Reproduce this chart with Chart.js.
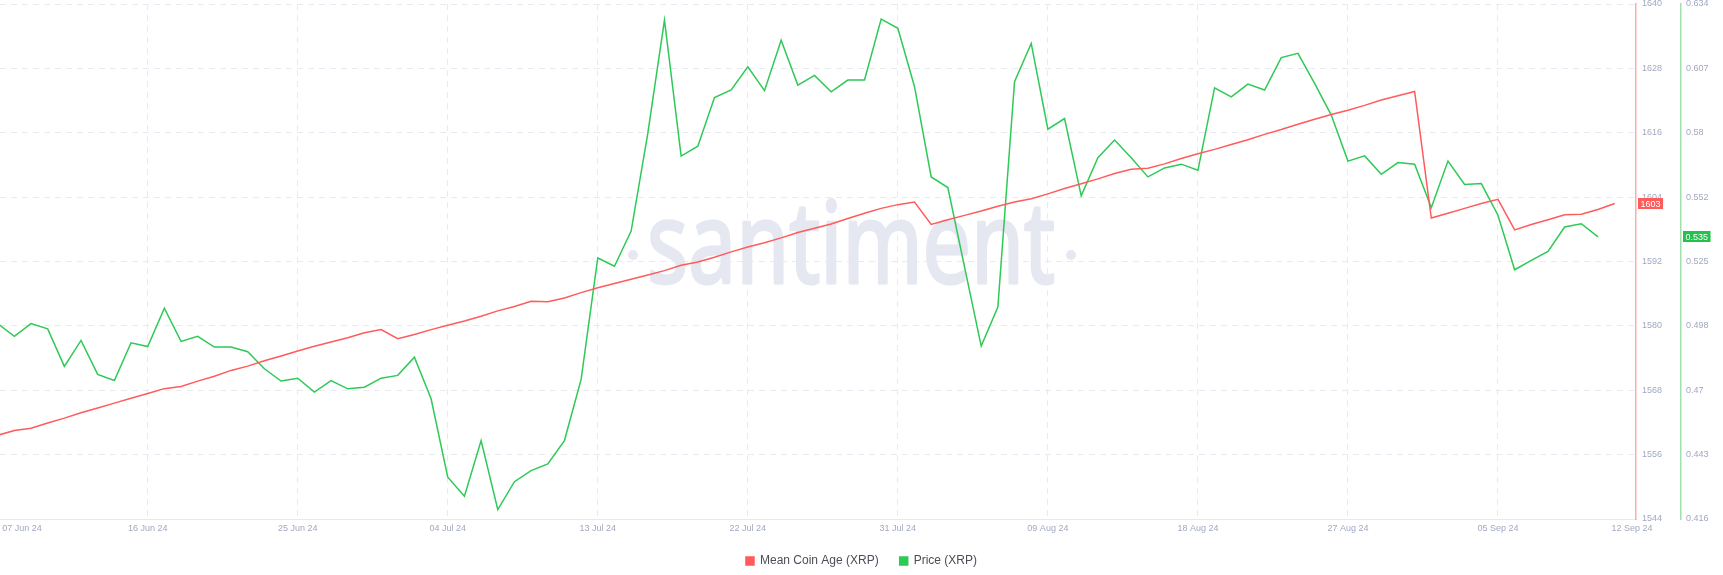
<!DOCTYPE html>
<html>
<head>
<meta charset="utf-8">
<script src="https://cdn.jsdelivr.net/npm/chart.js@4.4.1/dist/chart.umd.min.js"></script>
<style>
  html, body { margin: 0; padding: 0; background: #fff; }
  #wrap { width: 1723px; height: 575px; }
</style>
</head>
<body>
<div id="wrap"><canvas id="chart" width="1723" height="575"></canvas></div>
<script>
// daily values, 07 Jun 24 .. 12 Sep 24
const meanCoinAge = [
  1559.6, 1560.5, 1560.9, 1561.9, 1562.8, 1563.8, 1564.7, 1565.6, 1566.5, 1567.4,
  1568.3, 1568.7, 1569.7, 1570.6, 1571.7, 1572.5, 1573.5, 1574.4, 1575.3, 1576.2,
  1577.0, 1577.8, 1578.7, 1579.3, 1577.6, 1578.4, 1579.3, 1580.1, 1580.9, 1581.8,
  1582.8, 1583.6, 1584.6, 1584.5, 1585.2, 1586.2, 1587.1, 1587.9, 1588.7, 1589.5,
  1590.3, 1591.3, 1591.9, 1592.8, 1593.8, 1594.7, 1595.5, 1596.4, 1597.4, 1598.2,
  1599.0, 1600.0, 1601.0, 1601.9, 1602.6, 1603.1, 1598.9, 1599.8, 1600.6, 1601.4,
  1602.3, 1603.1, 1603.7, 1604.6, 1605.6, 1606.5, 1607.4, 1608.4, 1609.2, 1609.4,
  1610.2, 1611.2, 1612.1, 1612.9, 1613.8, 1614.7, 1615.7, 1616.6, 1617.6, 1618.5,
  1619.4, 1620.2, 1621.1, 1622.1, 1622.9, 1623.7, 1600.1, 1601.0, 1601.9, 1602.8,
  1603.6, 1597.9, 1598.9, 1599.8, 1600.7, 1600.8, 1601.7, 1602.8
];
const price = [
  0.4987, 0.4933, 0.4987, 0.4965, 0.4806, 0.4916, 0.4772, 0.4746, 0.4906, 0.4890,
  0.5052, 0.4912, 0.4933, 0.4888, 0.4888, 0.4868, 0.4796, 0.4744, 0.4756, 0.4697,
  0.4746, 0.4711, 0.4718, 0.4756, 0.4768, 0.4845, 0.4669, 0.4337, 0.4256, 0.4492,
  0.4200, 0.4318, 0.4365, 0.4393, 0.4492, 0.4751, 0.5265, 0.5230, 0.5379, 0.5792,
  0.6272, 0.5696, 0.5738, 0.5944, 0.5976, 0.6074, 0.5973, 0.6187, 0.5997, 0.6038,
  0.5968, 0.6018, 0.6018, 0.6276, 0.6237, 0.5990, 0.5608, 0.5563, 0.5227, 0.4892,
  0.5057, 0.6011, 0.6173, 0.5810, 0.5855, 0.5528, 0.5689, 0.5764, 0.5689, 0.5608,
  0.5646, 0.5662, 0.5636, 0.5985, 0.5947, 0.6001, 0.5976, 0.6113, 0.6131, 0.6004,
  0.5870, 0.5675, 0.5697, 0.5619, 0.5669, 0.5662, 0.5478, 0.5675, 0.5576, 0.5580,
  0.5446, 0.5215, 0.5255, 0.5293, 0.5396, 0.5410, 0.5354
];
const dateTicks = ["07 Jun 24", "16 Jun 24", "25 Jun 24", "04 Jul 24", "13 Jul 24", "22 Jul 24",
  "31 Jul 24", "09 Aug 24", "18 Aug 24", "27 Aug 24", "05 Sep 24", "12 Sep 24"];
const coinAgeTicks = [1544, 1556, 1568, 1580, 1592, 1604, 1616, 1628, 1640];
const priceTicks = ["0.416", "0.443", "0.47", "0.498", "0.525", "0.552", "0.58", "0.607", "0.634"];

const RED = "#ff5b5b";
const GREEN = "#2ec957";
const TICK_COLOR = "#a2a8c0";
const GRID_COLOR = "#e8eaf3";
const tickFont = { family: "'Liberation Sans', Arial, sans-serif", size: 9 };

// where the date labels sit (day index); first/last are nudged like the original
const dateTickAt = [1.46, 9, 18, 27, 36, 45, 54, 63, 72, 81, 90, 98.04];

const watermark = {
  id: "watermark",
  beforeDatasetsDraw(chart) {
    const ctx = chart.ctx;
    ctx.save();
    ctx.fillStyle = "#e5e7f1";
    ctx.strokeStyle = "#e5e7f1";
    ctx.lineWidth = 3;
    ctx.lineJoin = "round";
    ctx.font = "400 114px 'Noto Sans'";
    ctx.textAlign = "center";
    ctx.textBaseline = "alphabetic";
    const w = ctx.measureText("santiment").width;
    ctx.translate(851, 283);
    ctx.scale(408 / w, 1);
    ctx.fillText("santiment", 0, 0);
    ctx.strokeText("santiment", 0, 0);
    ctx.restore();
    ctx.save();
    ctx.fillStyle = "#e5e7f1";
    [633, 1071].forEach((x) => {
      ctx.beginPath();
      ctx.arc(x, 255, 5, 0, Math.PI * 2);
      ctx.fill();
    });
    ctx.restore();
  },
};

// last value tags on the right axes
const lastValueTags = {
  id: "lastValueTags",
  afterDraw(chart) {
    const ctx = chart.ctx;
    const tag = (scale, value, text, bg) => {
      const y = scale.getPixelForValue(value);
      ctx.save();
      ctx.font = "9px 'Liberation Sans', Arial, sans-serif";
      const w = ctx.measureText(text).width + 5;
      ctx.fillStyle = bg;
      ctx.fillRect(scale.left + 2, Math.round(y - 5.5), w, 11);
      ctx.fillStyle = "#fff";
      ctx.textBaseline = "middle";
      ctx.fillText(text, scale.left + 4.5, y + 0.5);
      ctx.restore();
    };
    const lastAge = meanCoinAge[meanCoinAge.length - 1];
    const lastPrice = price[price.length - 1];
    tag(chart.scales.y, lastAge, Math.round(lastAge).toString(), RED);
    tag(chart.scales.y1, lastPrice, lastPrice.toFixed(3), "#22c24c");
  },
};

const noOverflow = (scale) => {
  scale.paddingTop = 0;
  scale.paddingBottom = 0;
  scale.paddingLeft = 0;
  scale.paddingRight = 0;
};

const ctx = document.getElementById("chart").getContext("2d");
new Chart(ctx, {
  type: "line",
  data: {
    datasets: [
      {
        label: "Mean Coin Age (XRP)",
        data: meanCoinAge.map((v, i) => ({ x: i, y: v })),
        borderColor: RED,
        backgroundColor: RED,
        borderWidth: 1.5,
        pointRadius: 0,
        tension: 0,
        yAxisID: "y",
      },
      {
        label: "Price (XRP)",
        data: price.map((v, i) => ({ x: i, y: v })),
        borderColor: GREEN,
        backgroundColor: GREEN,
        borderWidth: 1.5,
        pointRadius: 0,
        tension: 0,
        yAxisID: "y1",
      },
    ],
  },
  options: {
    responsive: false,
    animation: false,
    layout: { padding: { top: 4, left: 0, right: 0, bottom: -2 } },
    plugins: {
      tooltip: { enabled: false },
      legend: {
        position: "bottom",
        labels: {
          boxWidth: 8,
          boxHeight: 8,
          padding: 21,
          color: "#4d4d58",
          font: { family: "'Liberation Sans', Arial, sans-serif", size: 12 },
        },
      },
    },
    scales: {
      x: {
        type: "linear",
        min: 0.14,
        max: 98.28,
        afterBuildTicks: (scale) => {
          scale.ticks = dateTickAt.map((v) => ({ value: v }));
        },
        afterFit: (scale) => { noOverflow(scale); scale.height = 15; },
        ticks: {
          autoSkip: false,
          maxRotation: 0,
          padding: 4,
          color: TICK_COLOR,
          font: tickFont,
          callback: (value, index) => dateTicks[index],
        },
        grid: {
          drawTicks: false,
          color: (c) => (c.index === 0 || c.index === dateTickAt.length - 1 ? "rgba(0,0,0,0)" : GRID_COLOR),
        },
        border: { color: "#e6e8f2", dash: [6, 5] },
      },
      y: {
        position: "right",
        min: 1544,
        max: 1640,
        afterBuildTicks: (scale) => {
          scale.ticks = coinAgeTicks.map((v) => ({ value: v }));
        },
        afterFit: (scale) => { noOverflow(scale); scale.width = 45; },
        ticks: {
          padding: 6,
          color: TICK_COLOR,
          font: tickFont,
          callback: (value) => String(value),
        },
        grid: { drawTicks: false, color: GRID_COLOR },
        border: { color: "#ffaaaa", width: 1.5, dash: [6, 5] },
      },
      y1: {
        position: "right",
        min: 0.416,
        max: 0.634,
        afterBuildTicks: (scale) => {
          const step = (scale.max - scale.min) / (priceTicks.length - 1);
          scale.ticks = priceTicks.map((t, k) => ({ value: scale.min + k * step }));
        },
        afterFit: (scale) => { noOverflow(scale); scale.width = 42; },
        ticks: {
          padding: 5,
          color: TICK_COLOR,
          font: tickFont,
          callback: (value, index) => priceTicks[index],
        },
        grid: { display: false, drawTicks: false },
        border: { color: "#9fe0ad", width: 1.5 },
      },
    },
  },
  plugins: [watermark, lastValueTags],
});
</script>
</body>
</html>
